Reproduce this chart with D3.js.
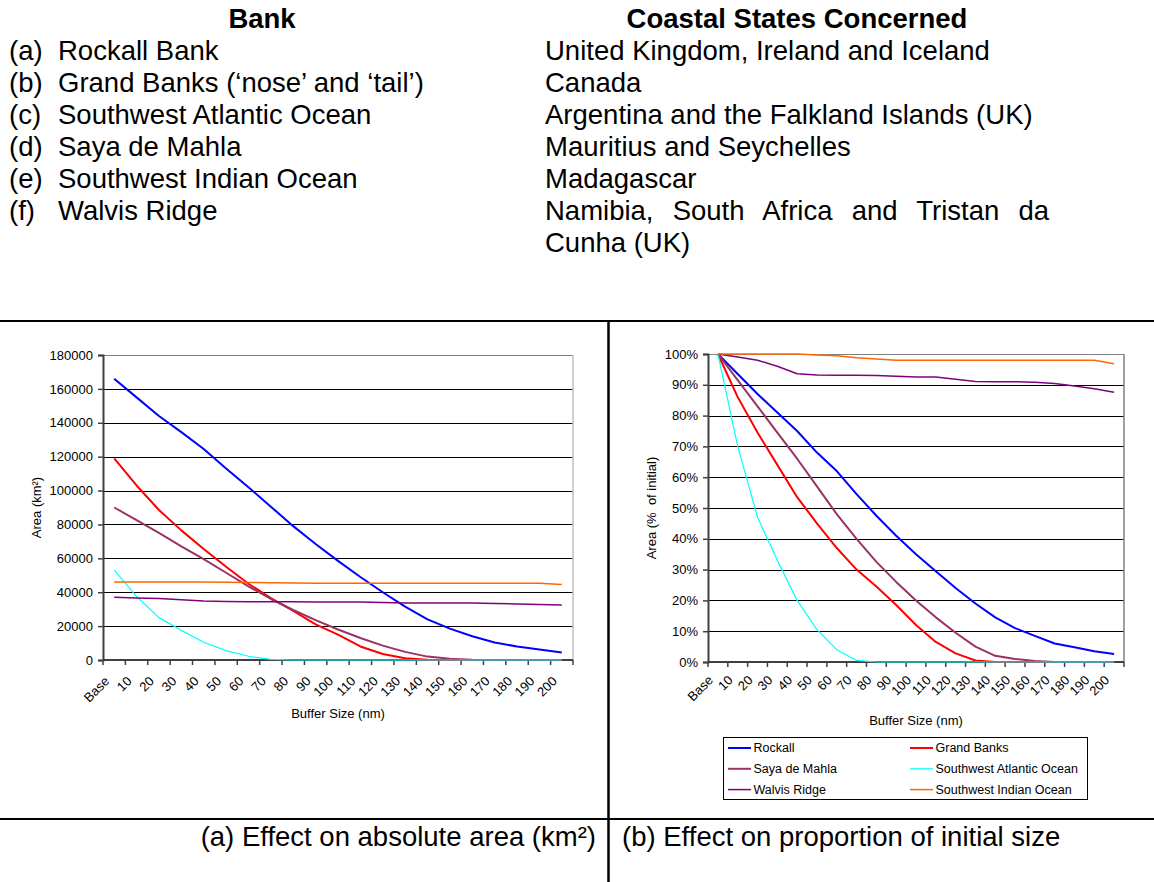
<!DOCTYPE html>
<html>
<head>
<meta charset="utf-8">
<script src="https://cdn.jsdelivr.net/npm/d3@7"></script>
<style>
  body { margin: 0; background: #fff; }
  svg text { font-family: "Liberation Sans", Arial, sans-serif; fill: #000; }
</style>
</head>
<body>
<div id="container"></div>
<script>
/* DATA */
const bankLetters = ["(a)", "(b)", "(c)", "(d)", "(e)", "(f)"];
const bankNames = ["Rockall Bank", "Grand Banks (\u2018nose\u2019 and \u2018tail\u2019)", "Southwest Atlantic Ocean",
  "Saya de Mahla", "Southwest Indian Ocean", "Walvis Ridge"];
const coastalStates = ["United Kingdom, Ireland and Iceland", "Canada", "Argentina and the Falkland Islands (UK)",
  "Mauritius and Seychelles", "Madagascar", "Namibia, South Africa and Tristan da", "Cunha (UK)"];

const categories = ["Base", "10", "20", "30", "40", "50", "60", "70", "80", "90", "100",
  "110", "120", "130", "140", "150", "160", "170", "180", "190", "200"];

const seriesNames = ["Rockall", "Grand Banks", "Saya de Mahla", "Southwest Atlantic Ocean", "Walvis Ridge", "Southwest Indian Ocean"];

// absolute area, km²
const rockallArea  = [166000, 155000, 144000, 134500, 124500, 113000, 102000, 90500, 79000, 68500, 58500, 49000, 40000, 31500, 24000, 18500, 14000, 10300, 8000, 6200, 4400];
const grandArea    = [119000, 103000, 88500, 76500, 65500, 55000, 45000, 36500, 29000, 21000, 15000, 8000, 3500, 1000, 200, 0, 0, 0, 0, 0, 0];
const sayaArea     = [90000, 82500, 75000, 67000, 59500, 51500, 43500, 36000, 29500, 23500, 18000, 13000, 8500, 4800, 2000, 800, 200, 0, 0, 0, 0];
const atlanticArea = [53000, 37500, 25000, 17500, 10500, 5500, 2200, 400, 0, 0, 0, 0, 0, 0, 0, 0, 0, 0, 0, 0, 0];
const walvisArea   = [37000, 36600, 36300, 35500, 34800, 34500, 34400, 34400, 34400, 34300, 34200, 34200, 34000, 33700, 33700, 33700, 33600, 33400, 33100, 32800, 32400];
const indianArea   = [46000, 46000, 46000, 46000, 46000, 45900, 45800, 45600, 45400, 45300, 45300, 45300, 45300, 45300, 45300, 45300, 45300, 45300, 45300, 45300, 44600];

// proportion of initial size, %
const rockallPct  = [100, 93.5, 87, 81, 75, 68, 62, 54.5, 47.5, 41, 35, 29.5, 24, 19, 14.5, 11, 8.5, 6, 4.8, 3.5, 2.6];
const grandPct    = [100, 86, 74.5, 64, 53.5, 45, 37, 30, 24.5, 18.5, 12, 6.5, 2.8, 0.5, 0, 0, 0, 0, 0, 0, 0];
const sayaPct     = [100, 91.5, 83, 74.5, 66, 57, 48, 40, 32.5, 26, 20, 14.5, 9.5, 5, 2, 1, 0.3, 0, 0, 0, 0];
const atlanticPct = [100, 70, 47, 33, 20, 10.5, 4, 0.5, 0, 0, 0, 0, 0, 0, 0, 0, 0, 0, 0, 0, 0];
const walvisPct   = [100, 99, 98, 96, 93.6, 93.2, 93.1, 93.1, 93, 92.8, 92.5, 92.5, 91.8, 91.1, 91, 91, 90.8, 90.4, 89.6, 88.7, 87.6];
const indianPct   = [100, 100, 100, 100, 100, 99.7, 99.4, 98.8, 98.4, 98, 98, 98, 98, 98, 98, 98, 98, 98, 98, 98, 96.8];

/* STYLES */
const seriesColors = ["#0000ff", "#ff0000", "#993366", "#00ffff", "#800080", "#ff6600"];
const seriesWidths = [2, 2, 2, 1.2, 1.5, 1.5];

const width = 1154, height = 882;

const svg = d3.select("#container")
  .append("svg")
  .attr("width", width)
  .attr("height", height);

/* HEADER TABLE */
const headSize = 27.5;
svg.append("text").attr("x", 262).attr("y", 28).attr("text-anchor", "middle")
  .attr("font-size", headSize).attr("font-weight", "bold").text("Bank");
svg.append("text").attr("x", 797).attr("y", 28).attr("text-anchor", "middle")
  .attr("font-size", headSize).attr("font-weight", "bold").text("Coastal States Concerned");

const rowY = i => 60 + i * 32;

svg.selectAll("text.letter")
  .data(bankLetters)
  .join("text")
  .attr("class", "letter")
  .attr("x", 9)
  .attr("y", (d, i) => rowY(i))
  .attr("font-size", headSize)
  .text(d => d);

svg.selectAll("text.bank")
  .data(bankNames)
  .join("text")
  .attr("class", "bank")
  .attr("x", 58)
  .attr("y", (d, i) => rowY(i))
  .attr("font-size", headSize)
  .text(d => d);

const states = svg.selectAll("text.state")
  .data(coastalStates)
  .join("text")
  .attr("class", "state")
  .attr("x", 545)
  .attr("y", (d, i) => rowY(i))
  .attr("font-size", headSize)
  .text(d => d);

// justified line (Namibia ...) stretched to the paragraph's right edge
states.filter((d, i) => i === 5).each(function(d) {
  const natural = this.getComputedTextLength();
  const gaps = d.split(" ").length - 1;
  d3.select(this).attr("word-spacing", (1049 - 545 - natural) / gaps);
});

/* TABLE RULES */
svg.append("line").attr("x1", 0).attr("x2", width).attr("y1", 321).attr("y2", 321)
  .attr("stroke", "#000").attr("stroke-width", 2);
svg.append("line").attr("x1", 0).attr("x2", width).attr("y1", 819).attr("y2", 819)
  .attr("stroke", "#000").attr("stroke-width", 2);
svg.append("line").attr("x1", 608.5).attr("x2", 608.5).attr("y1", 320).attr("y2", height)
  .attr("stroke", "#000").attr("stroke-width", 2.5);

svg.append("text").attr("x", 596).attr("y", 846).attr("text-anchor", "end")
  .attr("font-size", headSize).text("(a) Effect on absolute area (km\u00b2)");
svg.append("text").attr("x", 622).attr("y", 846)
  .attr("font-size", headSize).text("(b) Effect on proportion of initial size");

/* CHART BUILDER */
function drawChart(opt) {
  const g = svg.append("g");

  const x = d3.scaleBand()
    .domain(categories)
    .range([opt.left, opt.right])
    .padding(0);

  const y = d3.scaleLinear()
    .domain(opt.yDomain)
    .range([opt.bottom, opt.top]);

  const yTicks = d3.range(opt.yDomain[0], opt.yDomain[1] + opt.yStep / 2, opt.yStep);

  // gridlines
  g.selectAll("line.grid")
    .data(yTicks.filter(d => d > opt.yDomain[0] && d < opt.yDomain[1]))
    .join("line")
    .attr("class", "grid")
    .attr("x1", opt.left).attr("x2", opt.right)
    .attr("y1", d => Math.round(y(d)) + 0.5).attr("y2", d => Math.round(y(d)) + 0.5)
    .attr("stroke", "#000").attr("stroke-width", 1);

  // plot border (top / right)
  g.append("line").attr("x1", opt.left).attr("x2", opt.right)
    .attr("y1", Math.round(opt.top) + 0.5).attr("y2", Math.round(opt.top) + 0.5)
    .attr("stroke", "#808080");
  g.append("line").attr("x1", opt.right).attr("x2", opt.right)
    .attr("y1", opt.top).attr("y2", opt.bottom)
    .attr("stroke", opt.rightBorder).attr("stroke-width", 1.5);

  // y axis
  const yAxis = g.append("g")
    .attr("transform", `translate(${opt.left},0)`)
    .call(d3.axisLeft(y).tickValues(yTicks).tickSize(5).tickPadding(5).tickFormat(opt.yFormat));
  yAxis.select(".domain").attr("stroke", "#404040").attr("stroke-width", 2);
  yAxis.selectAll(".tick line").attr("stroke", "#404040").attr("stroke-width", 1.5);
  yAxis.selectAll(".tick text")
    .attr("font-size", 13)
    .attr("font-family", "'Liberation Sans', Arial, sans-serif")
    .attr("fill", "#000");

  // x axis: ticks at category boundaries
  const bounds = categories.map(c => x(c)).concat([opt.right]);
  g.append("line").attr("x1", opt.left).attr("x2", opt.right)
    .attr("y1", opt.bottom).attr("y2", opt.bottom)
    .attr("stroke", "#404040").attr("stroke-width", 2);
  g.selectAll("line.xtick")
    .data(bounds)
    .join("line")
    .attr("class", "xtick")
    .attr("x1", d => d).attr("x2", d => d)
    .attr("y1", opt.bottom).attr("y2", opt.bottom + 5)
    .attr("stroke", "#404040").attr("stroke-width", 1.5);

  g.selectAll("text.xlab")
    .data(categories)
    .join("text")
    .attr("class", "xlab")
    .attr("font-size", 13)
    .attr("text-anchor", "end")
    .attr("transform", d => `translate(${x(d) + x.bandwidth() / 2 - 4},${opt.bottom + opt.labelDrop}) rotate(-45)`)
    .text(d => d);

  // axis titles
  g.append("text")
    .attr("x", (opt.left + opt.right) / 2)
    .attr("y", opt.xTitleY)
    .attr("text-anchor", "middle")
    .attr("font-size", 13)
    .text("Buffer Size (nm)");
  g.append("text")
    .attr("transform", `translate(${opt.yTitleX},${(opt.top + opt.bottom) / 2}) rotate(-90)`)
    .attr("text-anchor", "middle")
    .attr("font-size", 13)
    .style("white-space", "pre")
    .text(opt.yTitle);

  // series lines
  const line = d3.line()
    .x((d, i) => x(categories[i]) + x.bandwidth() / 2)
    .y(d => y(d));

  g.selectAll("path.series")
    .data(opt.series)
    .join("path")
    .attr("class", "series")
    .attr("d", d => line(d))
    .attr("fill", "none")
    .attr("stroke", (d, i) => seriesColors[i])
    .attr("stroke-width", (d, i) => seriesWidths[i])
    .attr("stroke-linejoin", "round");

  return g;
}

drawChart({
  left: 103, right: 573, top: 355, bottom: 660,
  yDomain: [0, 180000], yStep: 20000,
  yFormat: d3.format("d"),
  rightBorder: "#c0c0c0",
  labelDrop: 22,
  xTitleY: 718, yTitleX: 41,
  yTitle: "Area (km\u00b2)",
  series: [rockallArea, grandArea, sayaArea, atlanticArea, walvisArea, indianArea]
});

drawChart({
  left: 708, right: 1124, top: 354, bottom: 662,
  yDomain: [0, 100], yStep: 10,
  yFormat: d => d + "%",
  rightBorder: "#808080",
  labelDrop: 19,
  xTitleY: 725, yTitleX: 656,
  yTitle: "Area (%  of initial)",
  series: [rockallPct, grandPct, sayaPct, atlanticPct, walvisPct, indianPct]
});

/* LEGEND */
const legend = svg.append("g");
legend.append("rect")
  .attr("x", 723.5).attr("y", 737.5).attr("width", 364).attr("height", 62)
  .attr("fill", "#fff").attr("stroke", "#000").attr("stroke-width", 1);

const legendItems = legend.selectAll("g.item")
  .data(seriesNames)
  .join("g")
  .attr("class", "item")
  .attr("transform", (d, i) => `translate(${i % 2 === 0 ? 728 : 910},${748 + Math.floor(i / 2) * 20.8})`);

legendItems.append("line")
  .attr("x1", 0).attr("x2", 23)
  .attr("stroke", (d, i) => seriesColors[i])
  .attr("stroke-width", (d, i) => seriesWidths[i]);

legendItems.append("text")
  .attr("x", 25.5)
  .attr("dy", "0.35em")
  .attr("font-size", 12.5)
  .text(d => d);
</script>
</body>
</html>
